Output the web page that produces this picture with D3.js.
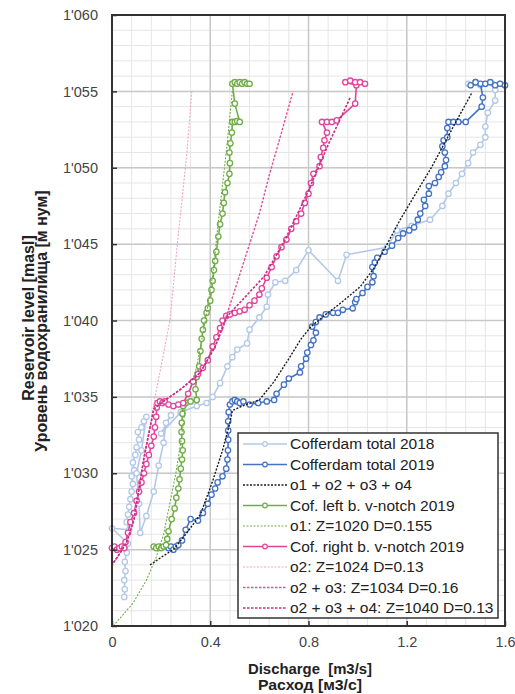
<!DOCTYPE html>
<html>
<head>
<meta charset="utf-8">
<script src="https://cdn.jsdelivr.net/npm/d3@7"></script>
<style>
  html, body { margin: 0; padding: 0; background: #fff; }
  svg { display: block; font-family: "Liberation Sans", Arial, sans-serif; }
</style>
</head>
<body>
<svg id="chart" width="515" height="694"></svg>
<script>
'use strict'

// ---- data ----
const xTicks = [0, 0.4, 0.8, 1.2, 1.6]
const yTicks = [1020, 1025, 1030, 1035, 1040, 1045, 1050, 1055, 1060]

const total2018 = [
  [0.05,1021.9],[0.052,1022.4],[0.05,1023],[0.055,1023.6],[0.052,1024.2],[0.06,1024.8],[0.065,1025.4],
  [0.0,1026.4],[0.07,1026.3],[0.06,1026.8],[0.065,1027.3],[0.07,1027.8],[0.075,1028.3],[0.08,1028.8],
  [0.085,1029.3],[0.08,1029.8],[0.09,1030.2],[0.085,1030.7],[0.095,1031.2],[0.1,1031.7],[0.11,1032.2],
  [0.105,1032.7],[0.12,1033],[0.13,1033.4],[0.14,1033.7],[0.12,1031.5],[0.1,1030],[0.11,1028],
  [0.115,1026.1],[0.14,1027.2],[0.17,1028.8],[0.19,1030.5],[0.21,1032],[0.22,1033.3],[0.24,1033.8],
  [0.2,1032.6],[0.28,1034],[0.345,1034.4],[0.385,1034.6],[0.41,1035],[0.44,1035.9],[0.47,1037],
  [0.49,1037.6],[0.51,1038.1],[0.55,1038.5],[0.56,1039.4],[0.6,1040.2],[0.63,1040.9],[0.635,1041.7],
  [0.665,1042.5],[0.705,1042.6],[0.75,1043.3],[0.8,1044.6],[0.92,1042.6],[0.955,1044.3],[1.12,1044.8],
  [1.16,1045.9],[1.22,1046.2],[1.295,1046.6],[1.345,1047.5],[1.37,1048.3],[1.4,1049],[1.425,1049.6],
  [1.45,1050.3],[1.47,1051],[1.5,1051.5],[1.52,1052],[1.52,1052.7],[1.53,1053.6],[1.56,1054.4],
  [1.56,1055.1],[1.55,1055.5],[1.5,1055.4],[1.45,1055.5],[1.48,1055.6],[1.58,1055.5]
]

const total2019 = [
  [0.23,1025.1],[0.24,1025.2],[0.25,1025.0],[0.26,1025.2],[0.27,1025.3],[0.285,1025.6],[0.3,1026.3],
  [0.32,1027],[0.35,1026.9],[0.37,1027.4],[0.39,1028],[0.405,1028.6],[0.42,1029],[0.43,1029.4],
  [0.45,1029.8],[0.465,1030.3],[0.47,1030.9],[0.472,1031.5],[0.473,1032.2],[0.473,1032.8],[0.473,1033.4],
  [0.475,1034],[0.48,1034.5],[0.49,1034.7],[0.5,1034.8],[0.51,1034.7],[0.52,1034.6],[0.535,1034.7],
  [0.56,1034.5],[0.595,1034.6],[0.63,1034.7],[0.66,1034.8],[0.67,1035.2],[0.7,1035.8],[0.72,1036.2],
  [0.765,1036.6],[0.77,1037],[0.79,1037.5],[0.795,1037.9],[0.81,1038.4],[0.82,1038.7],[0.83,1039.2],
  [0.815,1039.6],[0.83,1039.9],[0.845,1040.2],[0.87,1040.4],[0.9,1040.5],[0.92,1040.5],[0.94,1040.7],
  [0.98,1040.8],[0.99,1041.2],[0.995,1041.4],[1.02,1041.8],[1.04,1042.2],[1.06,1042.5],[1.065,1042.9],
  [1.06,1043.5],[1.07,1043.8],[1.08,1044.1],[1.11,1044.5],[1.14,1044.9],[1.165,1045.4],[1.185,1045.7],
  [1.21,1045.9],[1.23,1046.1],[1.245,1046.6],[1.255,1047],[1.275,1047.5],[1.27,1047.9],[1.29,1048.3],
  [1.29,1048.8],[1.315,1049],[1.33,1049.4],[1.34,1049.7],[1.355,1050.1],[1.36,1050.5],[1.355,1051],
  [1.345,1051.4],[1.35,1051.8],[1.365,1052],[1.365,1052.6],[1.37,1053],[1.39,1053],[1.41,1053],
  [1.44,1053],[1.505,1054],[1.51,1054.6],[1.5,1055.5],[1.46,1055.4],[1.48,1055.6],[1.52,1055.5],
  [1.54,1055.6],[1.56,1055.4],[1.58,1055.5],[1.6,1055.4]
]

const oSum = [
  [0.155,1024],[0.21,1024.6],[0.25,1025],[0.3,1026],
  [0.36,1027.3],[0.41,1029.5],[0.45,1031.5],[0.48,1033.3],[0.49,1034.1],[0.53,1034.4],[0.6,1034.8],
  [0.66,1036],[0.72,1037.5],[0.77,1038.8],[0.81,1039.6],[0.87,1040.4],[0.92,1041],[1.01,1042.2],
  [1.07,1043.5],[1.12,1045],[1.17,1046.5],[1.24,1048.4],[1.3,1050],[1.34,1051.2],[1.4,1053],[1.465,1054.9]
]

const leftNotch = [
  [0.17,1025.2],[0.18,1025.1],[0.19,1025.2],[0.2,1025.1],[0.21,1025.2],[0.22,1025.3],[0.225,1025.7],
  [0.23,1026.2],[0.243,1027],[0.255,1027.7],[0.262,1028.4],[0.27,1029],[0.275,1029.6],[0.28,1030.3],
  [0.285,1030.9],[0.288,1031.5],[0.285,1032.1],[0.283,1032.7],[0.284,1033.3],[0.287,1033.9],[0.29,1034.4],
  [0.3,1034.6],[0.32,1034.7],[0.345,1034.8],[0.34,1035.5],[0.345,1036.3],[0.355,1037],[0.36,1038],
  [0.365,1038.8],[0.37,1039.4],[0.375,1040],[0.385,1040.5],[0.39,1040.8],[0.4,1041.3],[0.405,1042],
  [0.41,1042.6],[0.415,1043.3],[0.42,1043.9],[0.425,1044.5],[0.433,1045.5],[0.44,1046.3],[0.45,1047],
  [0.455,1047.7],[0.46,1048.4],[0.47,1049],[0.478,1049.6],[0.48,1050.3],[0.478,1051],[0.482,1051.6],
  [0.488,1052.3],[0.49,1053],[0.5,1053],[0.51,1053.05],[0.52,1053],[0.5,1054.2],[0.49,1055.5],
  [0.5,1055.6],[0.51,1055.5],[0.52,1055.6],[0.53,1055.5],[0.54,1055.6],[0.55,1055.5],[0.56,1055.5]
]

const o1 = [
  [0.005,1020],[0.086,1021.5],[0.14,1023],[0.18,1024.5],[0.21,1026],[0.235,1028],[0.26,1030],
  [0.28,1032],[0.3,1034.5],[0.345,1037],[0.38,1040],[0.41,1043],[0.44,1047.5],[0.465,1051],[0.49,1055]
]

const rightNotch = [
  [0.0,1025.1],[0.01,1025.2],[0.02,1025.0],[0.03,1025.1],[0.04,1025.2],[0.05,1025.1],[0.055,1025.5],
  [0.065,1026.1],[0.075,1026.8],[0.09,1027.4],[0.1,1028.2],[0.11,1028.8],[0.12,1029.4],[0.13,1030],
  [0.14,1030.6],[0.15,1031.2],[0.16,1031.8],[0.17,1032.4],[0.175,1033],[0.18,1033.7],[0.182,1034.3],
  [0.185,1034.6],[0.195,1034.7],[0.205,1034.6],[0.215,1034.7],[0.23,1034.5],[0.25,1034.4],[0.27,1034.5],
  [0.29,1034.6],[0.31,1035.2],[0.33,1036],[0.35,1036.5],[0.37,1036.9],[0.39,1037.4],[0.41,1038.3],
  [0.425,1038.9],[0.44,1039.5],[0.45,1040],[0.465,1040.3],[0.48,1040.4],[0.5,1040.5],[0.52,1040.6],
  [0.54,1040.7],[0.56,1041],[0.58,1041.3],[0.6,1041.7],[0.61,1042.1],[0.63,1042.8],[0.65,1043.5],
  [0.67,1044.2],[0.69,1044.8],[0.71,1045.3],[0.73,1046],[0.75,1046.5],[0.77,1047],[0.785,1047.7],
  [0.8,1048.3],[0.81,1049],[0.82,1049.6],[0.845,1050.1],[0.85,1050.7],[0.86,1051.3],[0.865,1051.8],
  [0.875,1052.3],[0.855,1053],[0.875,1053],[0.895,1053],[0.915,1053.1],[0.99,1054.2],[0.995,1055.4],
  [0.95,1055.6],[0.97,1055.7],[0.99,1055.6],[1.01,1055.6],[1.03,1055.5]
]

const o2 = [
  [0,1020],[0,1024],[0.03,1024.7],[0.06,1025.5],[0.09,1027],[0.11,1029],[0.13,1031],[0.155,1033],[0.175,1035],
  [0.2,1037],[0.22,1038.7],[0.236,1040],[0.266,1045],[0.285,1047.9],[0.305,1051],[0.325,1055]
]

const o23 = [
  [0,1020],[0,1024],[0.03,1024.7],[0.06,1025.5],[0.09,1027],[0.11,1029],[0.13,1031],[0.155,1033],[0.17,1034.2],
  [0.2,1034.6],[0.28,1035.5],[0.36,1036.6],[0.42,1038.3],[0.47,1040.5],[0.52,1043],[0.56,1045],
  [0.6,1047],[0.64,1049.5],[0.69,1052.3],[0.737,1055]
]

const o234 = [
  [0,1020],[0,1024],[0.03,1024.7],[0.06,1025.5],[0.09,1027],[0.11,1029],[0.13,1031],[0.155,1033],[0.17,1034.2],
  [0.2,1034.6],[0.28,1035.5],[0.36,1036.6],[0.42,1038.3],[0.47,1040.3],[0.54,1041.5],[0.62,1042.9],
  [0.705,1045.3],[0.8,1048.5],[0.88,1051.5],[0.97,1054.6]
]

const legendLabels = [
  'Cofferdam total 2018', 'Cofferdam total 2019', 'o1 + o2 + o3 + o4',
  'Cof. left b. v-notch 2019', 'o1: Z=1020 D=0.155', 'Cof. right b. v-notch 2019',
  'o2: Z=1024 D=0.13', 'o2 + o3: Z=1034 D=0.16', 'o2 + o3 + o4: Z=1040 D=0.13'
]

// ---- series styling, in legend order ----
const series = [
  {data: total2018, color: '#b3c8e8', width: 1.6, dash: null, marker: true},
  {data: total2019, color: '#4472c4', width: 1.6, dash: null, marker: true},
  {data: oSum, color: '#1a1a1a', width: 1.4, dash: '2,1.5', marker: false},
  {data: leftNotch, color: '#70ad47', width: 1.6, dash: null, marker: true},
  {data: o1, color: '#70ad47', width: 1.1, dash: '2,1.5', marker: false},
  {data: rightNotch, color: '#e2449c', width: 1.6, dash: null, marker: true},
  {data: o2, color: '#f3a3c9', width: 1.1, dash: '2,1.5', marker: false},
  {data: o23, color: '#e0509c', width: 1.4, dash: '2.5,1.5', marker: false},
  {data: o234, color: '#c42f86', width: 1.6, dash: '2.5,1.5', marker: false}
]

// ---- layout ----
const svg = d3.select('#chart')
const m = {left: 112, right: 505, top: 15, bottom: 626}

const x = d3.scaleLinear().domain([0, 1.6]).range([m.left, m.right])
const y = d3.scaleLinear().domain([1020, 1060]).range([m.bottom, m.top])

// grid: minor then major
const grid = svg.append('g').attr('class', 'grid')
grid.selectAll('.vminor').data(d3.range(0, 1.6001, 0.08)).enter().append('line')
  .attr('x1', d => x(d)).attr('x2', d => x(d)).attr('y1', m.top).attr('y2', m.bottom)
  .attr('stroke', '#e6e6e6').attr('stroke-width', 1)
grid.selectAll('.hminor').data(d3.range(1020, 1060.001, 1)).enter().append('line')
  .attr('x1', m.left).attr('x2', m.right).attr('y1', d => y(d)).attr('y2', d => y(d))
  .attr('stroke', '#e6e6e6').attr('stroke-width', 1)
grid.selectAll('.vmajor').data(xTicks).enter().append('line')
  .attr('x1', d => x(d)).attr('x2', d => x(d)).attr('y1', m.top).attr('y2', m.bottom)
  .attr('stroke', '#c8c8c8').attr('stroke-width', 1.5)
grid.selectAll('.hmajor').data(yTicks).enter().append('line')
  .attr('x1', m.left).attr('x2', m.right).attr('y1', d => y(d)).attr('y2', d => y(d))
  .attr('stroke', '#c8c8c8').attr('stroke-width', 1.5)

// clip
svg.append('clipPath').attr('id', 'clip').append('rect')
  .attr('x', m.left - 4).attr('y', m.top - 4)
  .attr('width', m.right - m.left + 8).attr('height', m.bottom - m.top + 8)

const plot = svg.append('g').attr('clip-path', 'url(#clip)')
const line = d3.line().x(d => x(d[0])).y(d => y(d[1]))

series.forEach(s => {
  const g = plot.append('g')
  g.append('path').datum(s.data)
    .attr('d', line)
    .attr('fill', 'none')
    .attr('stroke', s.color)
    .attr('stroke-width', s.width)
    .attr('stroke-dasharray', s.dash)
    .attr('stroke-linejoin', 'round')
  if (s.marker) {
    g.selectAll('circle').data(s.data).enter().append('circle')
      .attr('cx', d => x(d[0])).attr('cy', d => y(d[1])).attr('r', 2.7)
      .attr('fill', '#fff').attr('stroke', s.color).attr('stroke-width', 1.3)
  }
})

// frame
svg.append('rect')
  .attr('x', m.left).attr('y', m.top)
  .attr('width', m.right - m.left).attr('height', m.bottom - m.top)
  .attr('fill', 'none').attr('stroke', '#333').attr('stroke-width', 2)

// axes
const fmtY = d => d3.format(',')(d).replace(',', '\'')
const yAxis = svg.append('g').attr('transform', `translate(${m.left},0)`)
  .call(d3.axisLeft(y).tickValues(yTicks).tickFormat(fmtY).tickSizeInner(-5).tickSizeOuter(0).tickPadding(14))
const xAxis = svg.append('g').attr('transform', `translate(0,${m.bottom})`)
  .call(d3.axisBottom(x).tickValues(xTicks).tickFormat(d => d === 0 ? '0' : d3.format('.1f')(d)).tickSizeInner(-5).tickSizeOuter(0).tickPadding(11))
;[yAxis, xAxis].forEach(a => {
  a.select('.domain').remove()
  a.selectAll('.tick line').attr('stroke', '#333').attr('stroke-width', 1.5)
  a.selectAll('.tick text').attr('fill', '#444').attr('font-size', '14.5px')
    .attr('font-family', '"Liberation Sans", Arial, sans-serif')
})

// axis titles
const title = {'font-weight': 'bold', 'font-size': '14px', 'fill': '#222'}
function addText(sel, txt, attrs){
  const t = sel.append('text').text(txt)
  Object.entries(Object.assign({}, title, attrs)).forEach(([k, v]) => t.attr(k, v))
  return t
}
addText(svg, 'Discharge\u00a0 [m3/s]', {x: 310, y: 674, 'text-anchor': 'middle', textLength: 124, lengthAdjust: 'spacingAndGlyphs'})
addText(svg, 'Расход [м3/с]', {x: 310, y: 690, 'text-anchor': 'middle', textLength: 104, lengthAdjust: 'spacingAndGlyphs'})
addText(svg, 'Reservoir level [masl]', {transform: 'translate(34,318) rotate(-90)', 'text-anchor': 'middle', 'font-size': '16px'})
addText(svg, 'Уровень водохранилища [м нум]', {transform: 'translate(47,321) rotate(-90)', 'text-anchor': 'middle', 'font-size': '16px'})

// legend
const lg = svg.append('g').attr('class', 'legend')
lg.append('rect').attr('x', 238).attr('y', 433).attr('width', 260).attr('height', 185)
  .attr('fill', '#fff').attr('stroke', '#333').attr('stroke-width', 1.5)
const rowY = d3.scaleLinear().domain([0, 8]).range([444, 608])
series.forEach((s, i) => {
  const yy = rowY(i)
  lg.append('line').attr('x1', 243).attr('x2', 287).attr('y1', yy).attr('y2', yy)
    .attr('stroke', s.color).attr('stroke-width', s.dash ? s.width : 1.6)
    .attr('stroke-dasharray', s.dash)
  if (s.marker) {
    lg.append('circle').attr('cx', 265).attr('cy', yy).attr('r', 2.3)
      .attr('fill', '#fff').attr('stroke', s.color).attr('stroke-width', 1.2)
  }
  lg.append('text').attr('x', 290).attr('y', yy + 5).text(legendLabels[i])
    .attr('font-size', '15.5px').attr('fill', '#222')
})
</script>
</body>
</html>
